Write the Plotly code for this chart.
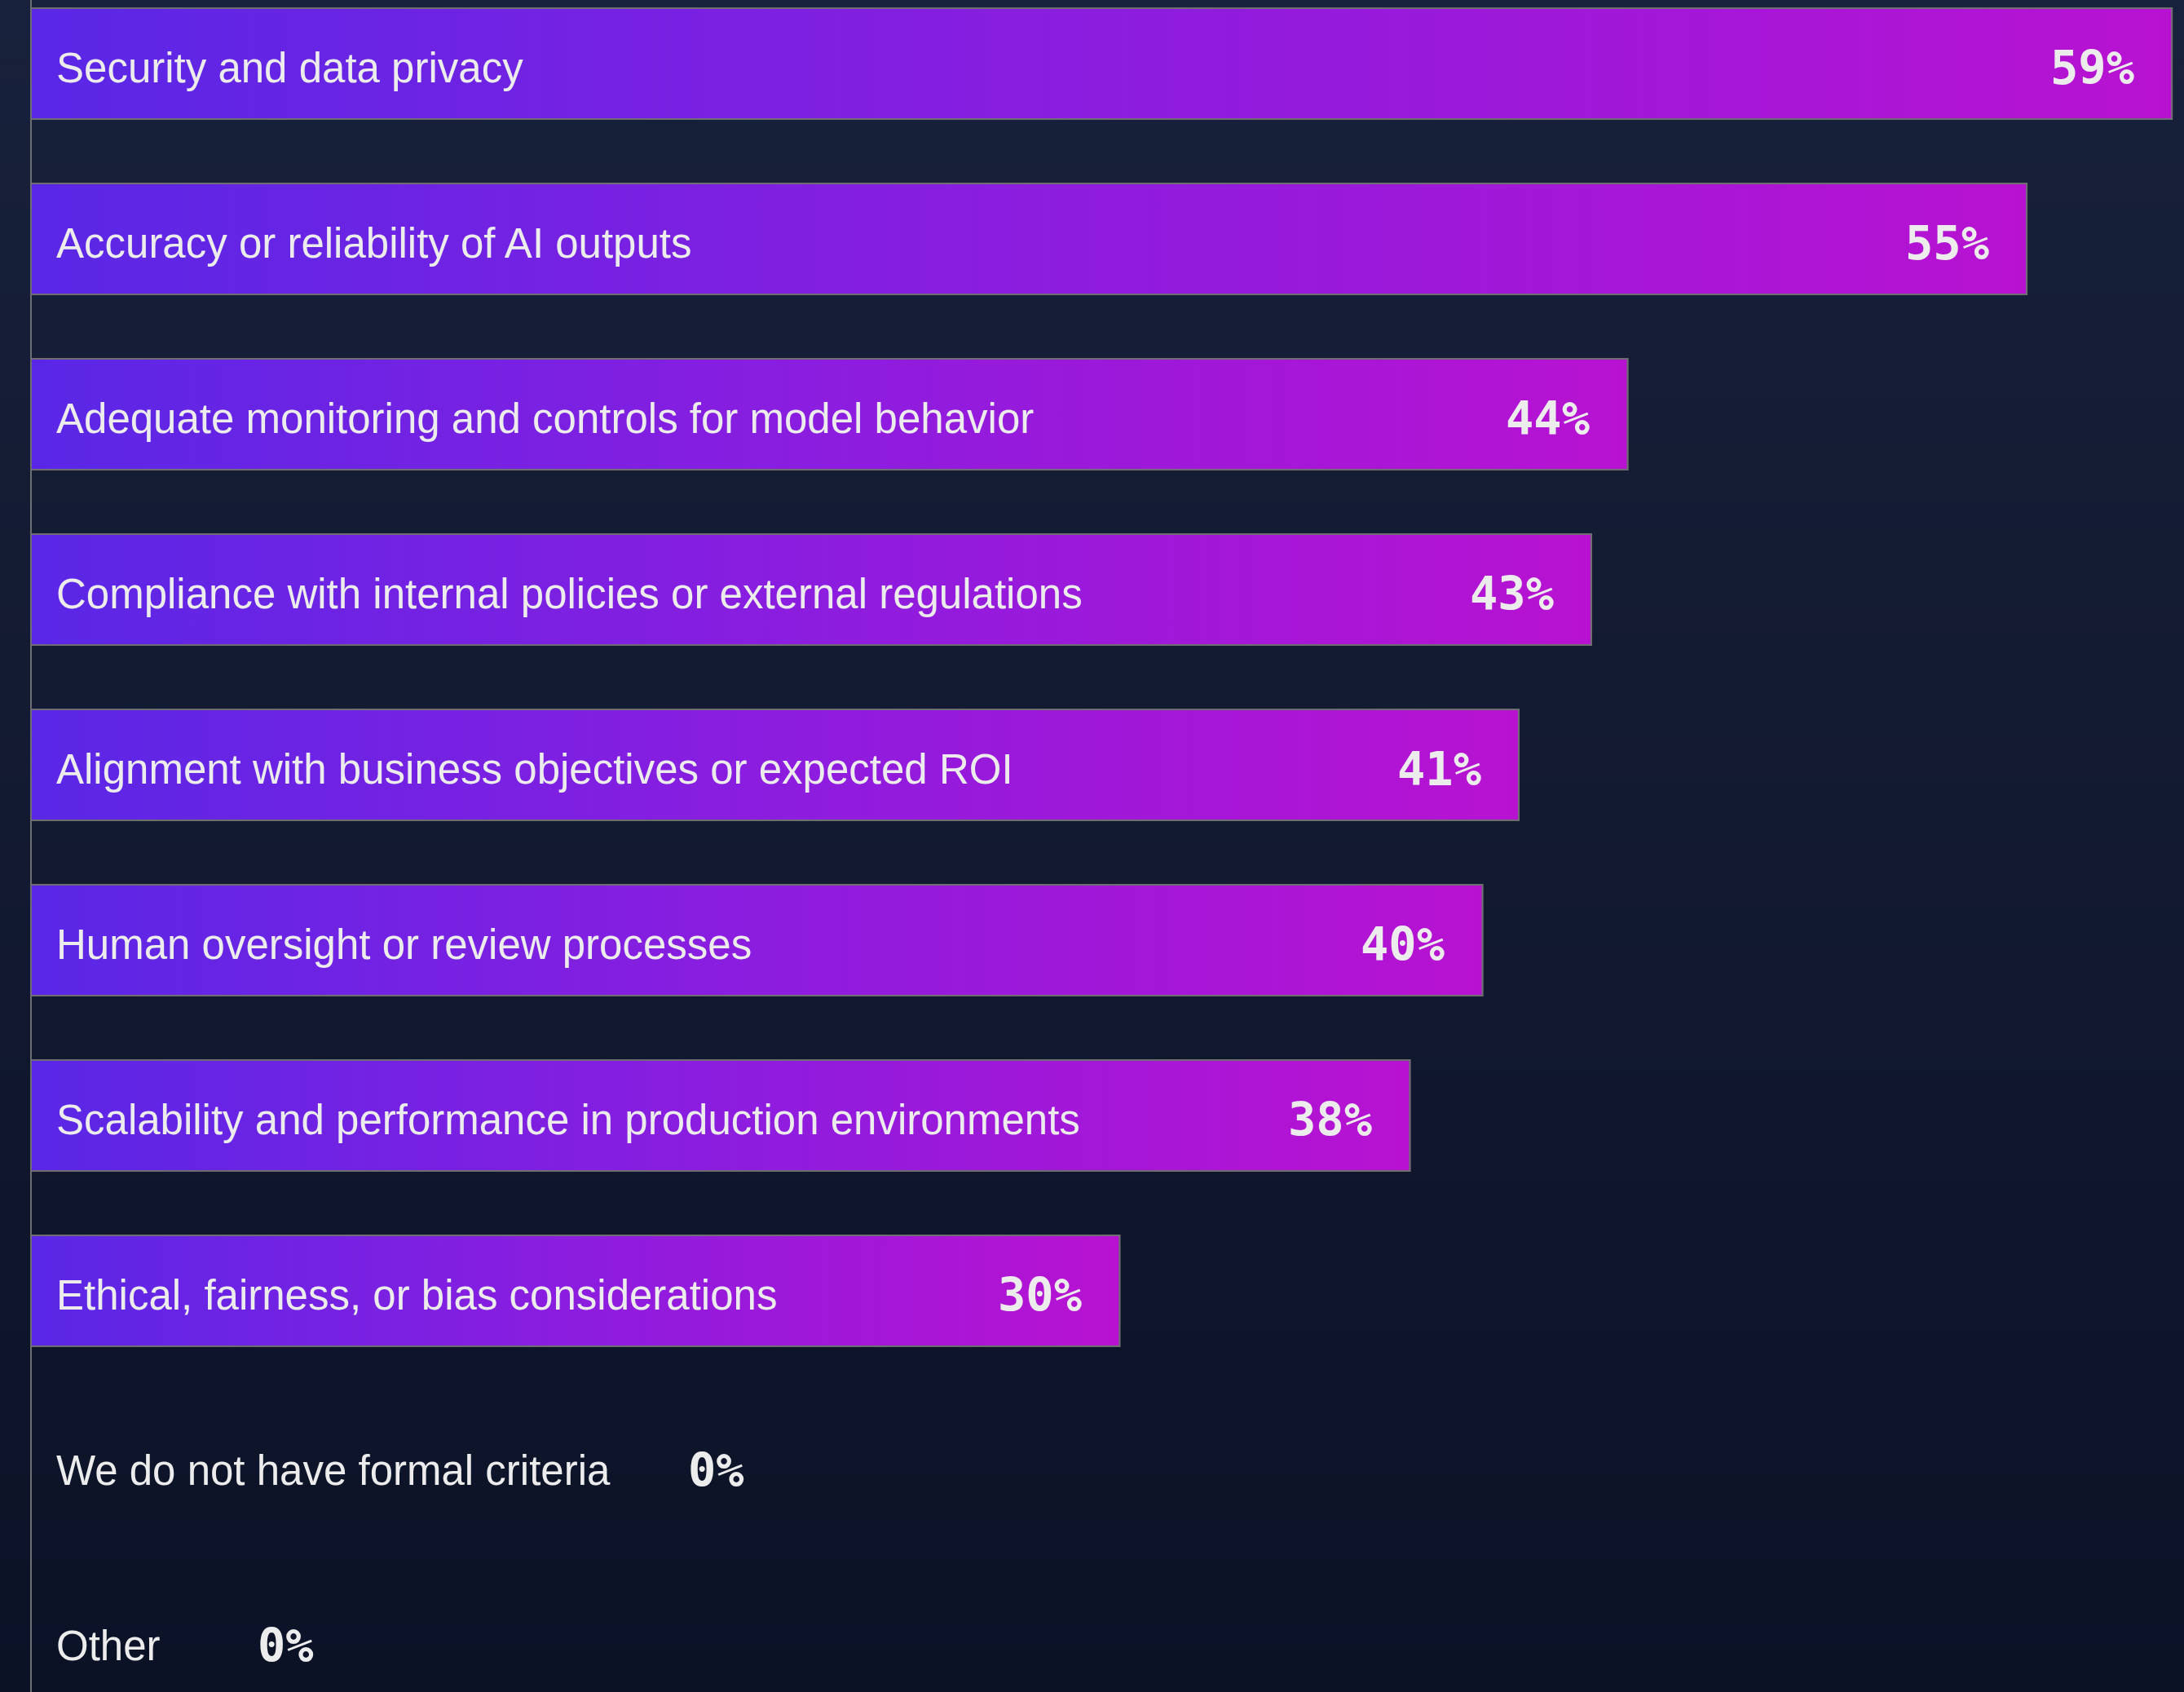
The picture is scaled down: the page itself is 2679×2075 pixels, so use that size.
import plotly.graph_objects as go

# Survey results: criteria used to evaluate AI initiatives
categories = [
    "Security and data privacy",
    "Accuracy or reliability of AI outputs",
    "Adequate monitoring and controls for model behavior",
    "Compliance with internal policies or external regulations",
    "Alignment with business objectives or expected ROI",
    "Human oversight or review processes",
    "Scalability and performance in production environments",
    "Ethical, fairness, or bias considerations",
    "We do not have formal criteria",
    "Other",
]
values = [59, 55, 44, 43, 41, 40, 38, 30, 0, 0]
value_labels = [f"{v}%" for v in values]

# Styling
W, H = 2679, 2075
LEFT_PX = 38            # pixel position of the zero line
PX_PER_UNIT_X = 44.51   # pixels per percentage point
ROW_PX = 215            # pixels per category row
FIRST_ROW_PX = 78       # centre of the first row
BAR_W = 0.633           # bar thickness in row units

BAR_START = "#5a27e6"
BAR_MID = "#8c1ddf"
BAR_END = "#b812d1"
OUTLINE = "#6e6e72"
TEXT = "#ececec"
BG_TOP = (24, 33, 59)
BG_BOTTOM = (12, 18, 38)

LABEL_FONT = dict(family="Liberation Sans, Arial, sans-serif", size=51, color=TEXT)
VALUE_FONT = dict(family="DejaVu Sans Mono, monospace", size=57, color=TEXT, weight="bold")
TEXT_YSHIFT = -5

# where the value text sits for rows without a bar (pixels from the zero line)
ZERO_VALUE_SHIFT = {"We do not have formal criteria": 804, "Other": 276}

idx = list(range(len(categories)))
half = BAR_W / 2

fig = go.Figure()

# bar marks
fig.add_trace(go.Bar(
    x=values, y=idx, orientation="h", width=BAR_W,
    marker=dict(color=BAR_MID, line=dict(color=OUTLINE, width=2)),
    hoverinfo="skip", showlegend=False,
))

# horizontal gradient fill for each bar, spanning the bar's own length
for i, v in zip(idx, values):
    if v <= 0:
        continue
    fig.add_trace(go.Scatter(
        x=[0, v, v, 0, 0],
        y=[i - half, i - half, i + half, i + half, i - half],
        mode="lines", fill="toself",
        fillgradient=dict(
            type="horizontal",
            colorscale=[[0, BAR_START], [0.5, BAR_MID], [1, BAR_END]],
            start=0, stop=v,
        ),
        line=dict(color=OUTLINE, width=2),
        hoverinfo="skip", showlegend=False,
    ))

annotations = []
for i, (cat, v, lab) in enumerate(zip(categories, values, value_labels)):
    annotations.append(dict(
        x=0, y=i, xref="x", yref="y", text=cat, showarrow=False,
        xanchor="left", yanchor="middle", xshift=29, yshift=TEXT_YSHIFT,
        font=LABEL_FONT,
    ))
    if v > 0:
        annotations.append(dict(
            x=v, y=i, xref="x", yref="y", text=lab, showarrow=False,
            xanchor="right", yanchor="middle", xshift=-44, yshift=TEXT_YSHIFT,
            font=VALUE_FONT,
        ))
    else:
        annotations.append(dict(
            x=0, y=i, xref="x", yref="y", text=lab, showarrow=False,
            xanchor="left", yanchor="middle", xshift=ZERO_VALUE_SHIFT[cat],
            yshift=TEXT_YSHIFT, font=VALUE_FONT,
        ))

# vertical background gradient built from thin bands
shapes = []
n_bands = 80
for k in range(n_bands):
    t = k / (n_bands - 1)
    r, g, b = (round(BG_TOP[j] + (BG_BOTTOM[j] - BG_TOP[j]) * t) for j in range(3))
    shapes.append(dict(
        type="rect", xref="paper", yref="paper",
        x0=0, x1=1, y0=1 - (k + 1) / n_bands, y1=1 - k / n_bands + 0.002,
        fillcolor=f"rgb({r},{g},{b})", line=dict(width=0), layer="below",
    ))

x_min = -LEFT_PX / PX_PER_UNIT_X
x_max = (W - LEFT_PX) / PX_PER_UNIT_X
y_top = -FIRST_ROW_PX / ROW_PX
y_bottom = (H - FIRST_ROW_PX) / ROW_PX

fig.update_layout(
    width=W, height=H,
    margin=dict(l=0, r=0, t=0, b=0),
    paper_bgcolor="rgb(12,18,38)",
    plot_bgcolor="rgba(0,0,0,0)",
    barmode="overlay",
    shapes=shapes,
    annotations=annotations,
    xaxis=dict(
        range=[x_min, x_max], showgrid=False, showticklabels=False,
        zeroline=True, zerolinecolor=OUTLINE, zerolinewidth=2,
        fixedrange=True,
    ),
    yaxis=dict(
        range=[y_bottom, y_top], showgrid=False, showticklabels=False,
        zeroline=False, fixedrange=True,
    ),
)

fig.write_html("out.html")
